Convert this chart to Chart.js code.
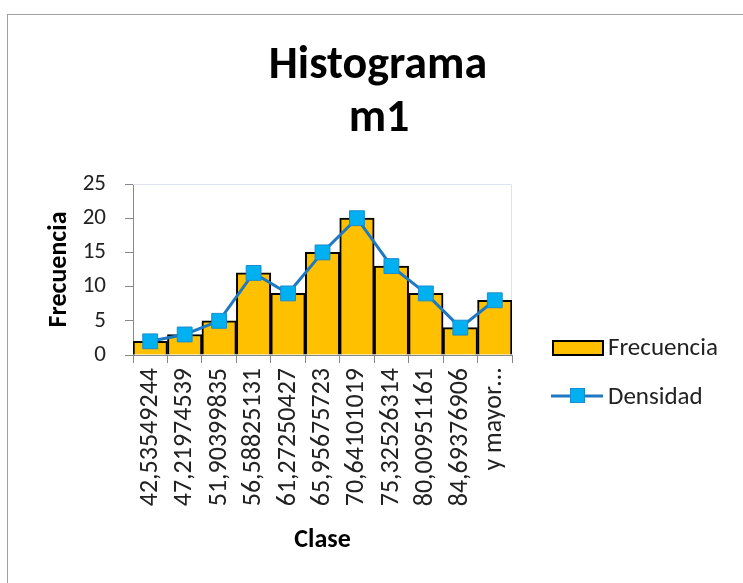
<!DOCTYPE html>
<html lang="es">
<head>
  <meta charset="utf-8">
  <script src="https://cdn.jsdelivr.net/npm/chart.js"></script>
  <style>
    html, body { margin: 0; padding: 0; background: #fff; overflow: hidden; }
    #frame { position: absolute; left: 7px; top: 14px; width: 760px; height: 600px; border: 1px solid #a0a0a0; }
    #chartCanvas { position: absolute; left: 0; top: 0; }
  </style>
</head>
<body>
<div id="frame"></div>
<canvas id="chartCanvas" width="743" height="583"></canvas>

<script>
  // datos del histograma
  const titulo = ['Histograma', 'm1'];
  const clases = ['42,53549244', '47,21974539', '51,90399835', '56,58825131', '61,27250427',
                  '65,95675723', '70,64101019', '75,32526314', '80,00951161', '84,69376906', 'y mayor…'];
  const frecuencia = [2, 3, 5, 12, 9, 15, 20, 13, 9, 4, 8];
  const densidad = [2, 3, 5, 12, 9, 15, 20, 13, 9, 4, 8];
  const yMax = 25;
  const yPaso = 5;
  const nombresSeries = ['Frecuencia', 'Densidad'];
  const tituloX = 'Clase';
  const tituloY = 'Frecuencia';

  const fuente = 'Carlito, "Liberation Sans", Arial, sans-serif';
  const oro = '#FFC000';
  const azulLinea = '#1E78C2';
  const azulPunto = '#00B0F0';

  // titulo, borde del area de trazado y leyenda
  const extras = {
    id: 'extras',
    beforeDatasetsDraw(chart) {
      const { ctx, chartArea: a } = chart;
      ctx.save();
      ctx.strokeStyle = '#dde4ee';
      ctx.lineWidth = 1;
      ctx.beginPath();
      ctx.moveTo(a.left, a.top + 0.5);
      ctx.lineTo(a.right - 0.5, a.top + 0.5);
      ctx.lineTo(a.right - 0.5, a.bottom);
      ctx.stroke();
      ctx.restore();
    },
    afterDraw(chart) {
      const ctx = chart.ctx;
      ctx.save();
      ctx.fillStyle = '#000';
      ctx.textAlign = 'center';
      ctx.textBaseline = 'alphabetic';
      ctx.font = 'bold 46px ' + fuente;
      ctx.fillText(titulo[0], 378, 78);
      ctx.fillText(titulo[1], 379, 131);

      // leyenda
      ctx.fillStyle = oro;
      ctx.strokeStyle = '#000';
      ctx.lineWidth = 2;
      ctx.fillRect(553, 341, 50, 14);
      ctx.strokeRect(553, 341, 50, 14);

      ctx.strokeStyle = azulLinea;
      ctx.lineWidth = 3;
      ctx.beginPath();
      ctx.moveTo(551, 396);
      ctx.lineTo(603, 396);
      ctx.stroke();
      ctx.fillStyle = azulPunto;
      ctx.strokeStyle = '#1a8bd0';
      ctx.lineWidth = 1;
      ctx.fillRect(570, 388, 15, 15);
      ctx.strokeRect(570.5, 388.5, 14, 14);

      ctx.fillStyle = '#222';
      ctx.textAlign = 'left';
      ctx.font = '25px ' + fuente;
      ctx.fillText(nombresSeries[0], 608, 355);
      ctx.fillText(nombresSeries[1], 608, 404);
      ctx.restore();
    }
  };

  const ctx = document.getElementById('chartCanvas').getContext('2d');
  const chart = new Chart(ctx, {
    type: 'bar',
    data: {
      labels: clases,
      datasets: [
        {
          type: 'line',
          label: nombresSeries[1],
          data: densidad,
          borderColor: azulLinea,
          borderWidth: 3,
          tension: 0,
          pointStyle: 'rect',
          pointRadius: 10.5,
          pointBackgroundColor: azulPunto,
          pointBorderColor: '#1a8bd0',
          pointBorderWidth: 1,
          order: 1
        },
        {
          label: nombresSeries[0],
          data: frecuencia,
          backgroundColor: oro,
          borderColor: '#000',
          borderWidth: 2,
          barPercentage: 1,
          categoryPercentage: 1,
          order: 2
        }
      ]
    },
    options: {
      responsive: false,
      animation: false,
      layout: { padding: { top: 184, right: 231, bottom: 0, left: 0 } },
      plugins: {
        legend: { display: false },
        tooltip: { enabled: false }
      },
      scales: {
        x: {
          offset: true,
          afterFit: s => { s.height = 228; },
          border: { display: true, color: '#888', width: 1 },
          grid: { display: true, offset: true, drawOnChartArea: false, drawTicks: true, tickLength: 8, color: '#888' },
          ticks: {
            autoSkip: false,
            minRotation: 90,
            maxRotation: 90,
            padding: 5,
            color: '#222',
            font: { family: fuente, size: 26 }
          },
          title: {
            display: true,
            text: tituloX,
            color: '#000',
            font: { family: fuente, size: 26, weight: 'bold' },
            padding: { top: 0, bottom: 27 }
          }
        },
        y: {
          min: 0,
          max: yMax,
          afterFit: s => { s.width = 133; },
          border: { display: true, color: '#888', width: 1 },
          grid: { display: true, drawOnChartArea: false, drawTicks: true, tickLength: 8, color: '#888' },
          ticks: {
            stepSize: yPaso,
            padding: 19,
            color: '#222',
            font: { family: fuente, size: 23 }
          },
          title: {
            display: true,
            text: tituloY,
            color: '#000',
            font: { family: fuente, size: 26, weight: 'bold' },
            padding: { top: 44, bottom: 0 }
          }
        }
      }
    },
    plugins: [extras]
  });
</script>
</body>
</html>
